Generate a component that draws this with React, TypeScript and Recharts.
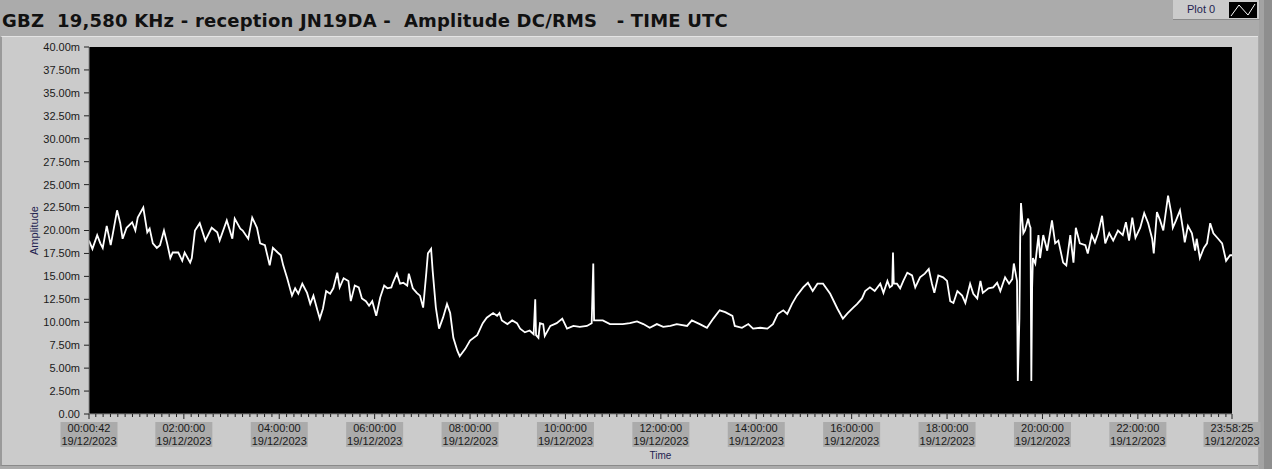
import { LineChart, Line, XAxis, YAxis, CartesianGrid, Label } from "recharts";

// GBZ 19.58 kHz – amplitude DC/RMS sur 24 h, style face-avant LabVIEW.

const TITLE = "GBZ  19,580 KHz - reception JN19DA -  Amplitude DC/RMS   - TIME UTC";

// minutes depuis 00:00 UTC, amplitude en m (milli)
const nightPoints: [number, number][] = [
  [0.7, 18.9], [5, 18.0], [11, 19.5], [15, 18.6], [18, 18.1], [23, 20.5], [28, 18.4], [31, 19.8],
  [36, 22.2], [40, 20.8], [43, 19.1], [48, 20.3], [55, 20.9], [59, 20.0], [62, 21.4], [69, 22.5],
  [74, 19.8], [77, 20.2], [81, 18.6], [86, 18.1], [90, 18.4], [95, 20.0], [99, 18.6], [103, 17.0],
  [106, 17.6], [113, 17.6], [118, 16.7], [121, 17.6], [128, 16.5], [130, 17.0], [134, 20.0], [140, 20.8],
  [147, 18.9], [155, 20.3], [162, 19.8], [165, 18.9], [174, 21.1], [181, 19.1], [184, 21.3], [191, 20.2],
  [194, 20.0], [201, 19.1], [206, 21.4], [212, 20.3], [216, 18.6], [222, 18.4], [228, 16.2], [232, 18.1],
  [238, 17.6], [242, 17.3], [245, 16.2], [250, 14.8], [256, 12.9], [260, 13.7], [264, 13.1], [269, 14.2],
  [275, 13.2], [279, 12.0], [283, 12.9], [288, 11.3], [291, 10.4], [295, 11.5], [299, 13.4], [304, 13.1],
  [308, 13.7], [313, 15.4], [316, 13.8], [321, 14.8], [327, 14.5], [330, 12.3], [335, 14.0], [340, 13.8],
  [344, 12.6], [349, 12.3], [353, 11.8], [357, 12.3], [362, 10.7], [367, 12.7], [372, 14.0], [376, 13.7],
  [381, 13.8], [383, 14.3], [388, 15.3], [392, 14.2], [396, 14.3], [401, 14.0], [403, 15.3], [408, 13.7],
  [413, 13.2], [417, 12.9], [421, 11.6], [425, 15.4], [427, 17.5], [431, 18.0], [433, 15.6], [437, 11.6],
  [441, 9.3], [446, 10.5], [451, 12.0], [455, 11.0], [459, 8.3], [464, 6.9], [467, 6.3], [474, 7.1],
  [480, 8.0],
];

const dayPoints: [number, number][] = [
  [489, 8.6], [496, 9.9], [501, 10.5], [509, 11.0], [514, 10.7], [517, 11.0], [520, 10.2], [527, 9.8],
  [533, 10.2], [539, 9.9], [543, 9.3], [549, 8.9], [555, 9.1], [560, 8.7], [562, 12.5], [563, 8.6],
  [566, 8.3], [568, 9.9], [572, 9.8], [574, 8.5], [581, 9.6], [589, 9.9], [596, 10.4], [602, 9.3],
  [610, 9.6], [618, 9.5], [627, 9.6], [633, 9.9], [635, 16.4], [636, 10.2], [638, 10.2], [647, 10.2],
  [656, 9.8], [665, 9.8], [672, 9.8], [681, 9.9], [690, 10.1], [698, 9.8], [706, 9.4], [715, 9.8],
  [723, 9.5], [732, 9.6], [740, 9.8], [753, 9.6], [759, 10.2], [769, 9.8], [778, 9.4], [786, 10.4],
  [794, 11.3], [801, 11.1], [810, 10.7], [813, 9.6], [822, 9.4], [830, 9.8], [836, 9.3],
];

const eveningPoints: [number, number][] = [
  [845, 9.4], [854, 9.3], [861, 9.8], [867, 10.9], [874, 11.3], [879, 10.9], [885, 12.0], [891, 12.9],
  [899, 13.8], [905, 14.3], [911, 13.4], [917, 14.2], [924, 14.2], [933, 13.1], [942, 11.5], [949, 10.4],
  [955, 11.0], [962, 11.6], [967, 12.0], [973, 12.6], [977, 13.4], [983, 13.8], [989, 13.4], [996, 14.2],
  [1000, 13.2], [1005, 14.5], [1008, 13.8], [1011, 14.0], [1012, 17.6], [1013, 14.2], [1017, 14.2], [1021, 13.7],
  [1025, 14.5], [1030, 15.4], [1036, 15.1], [1040, 13.8], [1046, 14.9], [1052, 15.3], [1057, 15.8], [1061, 14.2],
  [1064, 13.2], [1069, 15.1], [1075, 14.9], [1080, 14.5], [1084, 12.3], [1088, 12.1], [1093, 13.4], [1099, 12.9],
  [1103, 12.1], [1109, 14.2], [1113, 13.1], [1118, 12.6], [1122, 14.5], [1125, 13.2], [1132, 13.7], [1138, 13.8],
  [1143, 14.3], [1147, 13.4], [1153, 14.9], [1158, 14.2], [1162, 14.7], [1164, 16.4], [1168, 14.5],
];

const latePoints: [number, number][] = [
  [1169, 3.6], [1171, 10.4], [1172, 19.2], [1173, 23.0], [1176, 19.7], [1178, 20.0], [1182, 21.3], [1184, 20.5],
  [1185, 20.3], [1186, 3.6], [1187, 13.8], [1188, 17.0], [1191, 16.4], [1195, 19.5], [1197, 17.0], [1201, 19.5],
  [1206, 17.8], [1212, 21.1], [1216, 18.6], [1220, 18.9], [1226, 16.5], [1230, 16.2], [1235, 19.5], [1239, 16.5],
  [1242, 20.3], [1247, 18.6], [1254, 18.4], [1257, 17.5], [1262, 19.5], [1266, 18.7], [1270, 19.7], [1275, 21.6],
  [1279, 18.6], [1284, 19.7], [1289, 18.9], [1295, 20.0], [1301, 19.5], [1305, 20.9], [1309, 18.9], [1313, 21.4],
  [1317, 19.2], [1323, 20.3], [1328, 21.9], [1333, 20.8], [1338, 19.1], [1340, 17.5], [1344, 22.0], [1348, 21.1],
  [1352, 20.0], [1358, 23.8], [1362, 21.9], [1364, 20.3], [1368, 21.1], [1373, 22.2], [1377, 20.0], [1379, 18.7],
  [1383, 20.5], [1388, 19.7], [1392, 17.8], [1394, 19.1], [1398, 17.0], [1403, 18.1], [1407, 18.6], [1411, 20.8],
  [1415, 19.7], [1421, 19.1], [1426, 18.6], [1431, 16.7], [1436, 17.3], [1438.42, 17.3],
];

const majorTicks = [0.7, 120, 240, 360, 480, 600, 720, 840, 960, 1080, 1200, 1320, 1438.42];
const timeLabels = [
  "00:00:42", "02:00:00", "04:00:00", "06:00:00", "08:00:00", "10:00:00", "12:00:00",
  "14:00:00", "16:00:00", "18:00:00", "20:00:00", "22:00:00", "23:58:25",
];
const dateLabels = timeLabels.map(() => "19/12/2023");
const yTicks = [0, 2.5, 5, 7.5, 10, 12.5, 15, 17.5, 20, 22.5, 25, 27.5, 30, 32.5, 35, 37.5, 40];

const data = [...nightPoints, ...dayPoints, ...eveningPoints, ...latePoints].map(([t, v]) => ({ t, v }));

// petites graduations : 13 pas par intervalle de 2 h
const minorTicks: number[] = [];
for (let h = 0; h < 12; h++) {
  for (let k = 1; k < 13; k++) {
    const m = h * 120 + (k * 120) / 13;
    if (m > 0.7 && m < 1438.42) minorTicks.push(m);
  }
}
const allTicks = [...majorTicks, ...minorTicks].sort((a, b) => a - b);

const FONT = "'Liberation Sans', Arial, sans-serif";

function TimeTick(props: any) {
  const { x, y, payload } = props;
  const i = majorTicks.indexOf(payload.value);
  if (i < 0) {
    return <line x1={x} x2={x} y1={y} y2={y + 3} stroke="#222" />;
  }
  return (
    <g>
      <line x1={x} x2={x} y1={y} y2={y + 5} stroke="#222" />
      <rect x={x - 28.5} y={y + 8} width={57} height={25} fill="#ABABAB" />
      <text x={x} y={y + 18} textAnchor="middle" fontSize={11} fontFamily={FONT} fill="#1a1a1a">
        {timeLabels[i]}
      </text>
      <text x={x} y={y + 31} textAnchor="middle" fontSize={11} fontFamily={FONT} fill="#1a1a1a">
        {dateLabels[i]}
      </text>
    </g>
  );
}

export default function App() {
  return (
    <div style={{ position: "fixed", left: 0, top: 0, width: 1272, height: 469, background: "#ABABAB", overflow: "hidden", fontFamily: FONT }}>
      <div style={{ position: "absolute", left: 0, top: 36, width: 1258, height: 430, background: "#CBCBCB", borderTop: "1px solid #E4E4E4", borderLeft: "2px solid #9A9A9A", borderBottom: "1px solid #8A8A8A", boxSizing: "border-box" }} />
      <div style={{ position: "absolute", left: 1259, top: 0, width: 5, height: 469, background: "#A3A3A3" }} />
      <div style={{ position: "absolute", left: 1264, top: 0, width: 8, height: 469, background: "#8E8E8E" }} />
      <div style={{ position: "absolute", left: 2, top: 10, fontFamily: "'DejaVu Sans', sans-serif", fontSize: 18, fontWeight: 700, letterSpacing: 0.2, color: "#111", whiteSpace: "pre", lineHeight: "22px" }}>
        {TITLE}
      </div>
      <div style={{ position: "absolute", left: 1173, top: 0, width: 86, height: 19, background: "#CBCBCB", borderBottom: "1px solid #8A8A8A", borderRight: "1px solid #9A9A9A" }}>
        <span style={{ position: "absolute", left: 14, top: 3, fontSize: 11, color: "#1E1E50" }}>Plot 0</span>
        <svg style={{ position: "absolute", left: 56, top: 2 }} width={28} height={16}>
          <rect x={0} y={0} width={28} height={16} fill="#000" />
          <polyline points="2,14 10,3 19,13 26,2" fill="none" stroke="#fff" strokeWidth={1} />
        </svg>
      </div>
      <div style={{ position: "absolute", left: 0, top: 0 }}>
        <LineChart width={1272} height={469} data={data} margin={{ top: 47, right: 40, left: 0, bottom: 0 }}>
          <CartesianGrid fill="#000" horizontal={false} vertical={false} />
          <XAxis
            dataKey="t"
            type="number"
            domain={[0.7, 1438.42]}
            ticks={allTicks}
            interval={0}
            height={55}
            tickSize={0}
            tickMargin={0}
            tickLine={false}
            tick={<TimeTick />}
            axisLine={{ stroke: "#8A8A8A" }}
            allowDataOverflow
          >
            <Label value="Time" position="center" dy={14} fontSize={10} fill="#1E1E50" fontFamily={FONT} />
          </XAxis>
          <YAxis
            domain={[0, 40]}
            ticks={yTicks}
            interval={0}
            width={89}
            tickSize={5}
            tickMargin={4}
            tick={{ fontSize: 11, fill: "#1a1a1a", fontFamily: FONT }}
            tickLine={{ stroke: "#222" }}
            axisLine={{ stroke: "#8A8A8A" }}
            tickFormatter={(v: number) => (v === 0 ? "0.00" : `${v.toFixed(2)}m`)}
            allowDataOverflow
          >
            <Label value="Amplitude" angle={-90} position="center" dx={-10} fontSize={11} fill="#1E1E50" fontFamily={FONT} />
          </YAxis>
          <Line
            type="linear"
            dataKey="v"
            stroke="#FFFFFF"
            strokeWidth={1.8}
            dot={false}
            isAnimationActive={false}
          />
        </LineChart>
      </div>
    </div>
  );
}
